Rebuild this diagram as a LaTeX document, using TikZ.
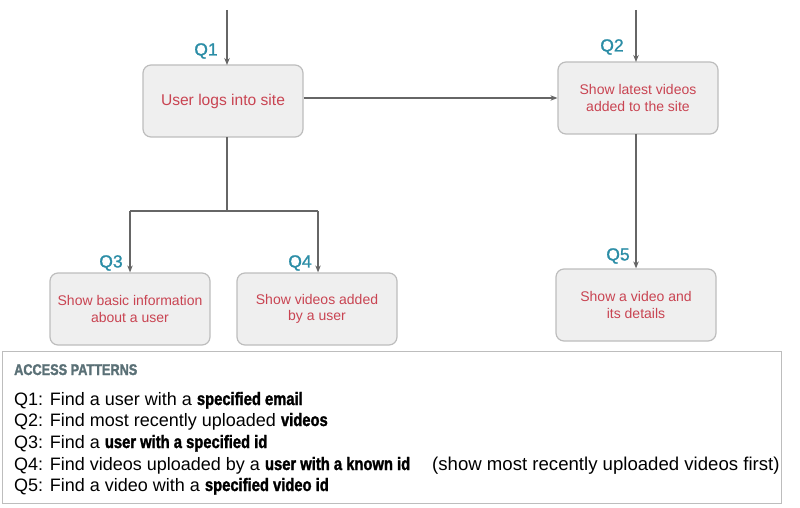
\documentclass[tikz,border=0pt]{standalone}
\usepackage{fontspec}
\setmainfont{Liberation Sans}
\newfontfamily\condfont[FakeStretch=0.82,FakeBold=1.6]{Liberation Sans}
\newfontfamily\qfont[FakeBold=1.2]{Liberation Sans}
\usetikzlibrary{arrows.meta}
\definecolor{boxfill}{HTML}{EFEFEF}
\definecolor{boxline}{HTML}{BDBDBD}
\definecolor{boxtext}{HTML}{C94452}
\definecolor{qcol}{HTML}{2B8DA6}
\definecolor{linecol}{HTML}{666666}
\definecolor{titlecol}{HTML}{5A7076}
\newcommand{\cb}[1]{{\condfont\bfseries #1}}
\tikzset{
  stepbox/.style={draw=boxline, line width=1.2pt, fill=boxfill, rounded corners=8pt,
    minimum width=160pt, minimum height=72pt, align=center, text=boxtext,
    font=\fontsize{14}{16.7}\selectfont},
  qlab/.style={text=qcol, font=\qfont\fontsize{17.5}{20}\selectfont, inner sep=0pt},
  conn/.style={draw=linecol, line width=1.6pt, -{Stealth[length=7pt,width=5.5pt]}},
  plain/.style={draw=linecol, line width=1.6pt},
  apline/.style={anchor=base west, inner sep=0pt, font=\fontsize{18}{20}\selectfont}
}
\begin{document}
\begin{tikzpicture}[x=1pt,y=-1pt]
\useasboundingbox (0,0) rectangle (800,508);
% boxes
\node[stepbox, font=\fontsize{15.6}{18}\selectfont] (b1) at (223,101) {User logs into site};
\node[stepbox] (b2) at (638,98) {Show latest videos\\added to the site};
\node[stepbox] (b3) at (130,309) {Show basic information\\about a user};
\node[stepbox] (b4) at (317,309) {Show videos added\\by a user};
\node[stepbox] (b5) at (636,305) {Show a video and\\its details};
% free ends
\coordinate (s1) at (227,10);
\coordinate (s2) at (636,10);
\coordinate (j) at (227,211);
\coordinate (jl) at (130,211);
\coordinate (jr) at (318,211);
% connectors
\draw[conn] (s1) -- (227,65);
\draw[conn] (s2) -- (636,62);
\draw[conn] (b1.east |- 0,98) -- (b2.west |- 0,98);
\draw[plain] (227,137) -- (j);
\draw[plain] (jl) -- (jr);
\draw[conn] (jl) -- (b3.north -| jl);
\draw[conn] (jr) -- (b4.north -| jr);
\draw[conn] (636,134) -- (b5.north -| 636,0);
% Q labels
\node[qlab] (q1) at (206,51) {Q1};
\node[qlab] (q2) at (612,47) {Q2};
\node[qlab] (q3) at (111,263) {Q3};
\node[qlab] (q4) at (300,263) {Q4};
\node[qlab] (q5) at (618,256) {Q5};
% access patterns box
\node[draw=boxline, line width=1pt, minimum width=779pt, minimum height=152pt, anchor=north west, inner sep=0pt] (ap) at (2,351) {};
\node[anchor=base west, inner sep=0pt, text=titlecol, font=\fontsize{15.5}{18}\selectfont] (apt) at (14,375) {\cb{ACCESS PATTERNS}};
\node[apline] (l1) at (14,405) {Q1: Find a user with a \cb{specified email}};
\node[apline] (l2) at (14,426) {Q2: Find most recently uploaded \cb{videos}};
\node[apline] (l3) at (14,448) {Q3: Find a \cb{user with a specified id}};
\node[apline] (l4) at (14,470) {Q4: Find videos uploaded by a \cb{user with a known id}};
\node[apline, font=\fontsize{18.6}{20}\selectfont] (l4b) at (432,470) {(show most recently uploaded videos first)};
\node[apline] (l5) at (14,491) {Q5: Find a video with a \cb{specified video id}};
\end{tikzpicture}
\end{document}
